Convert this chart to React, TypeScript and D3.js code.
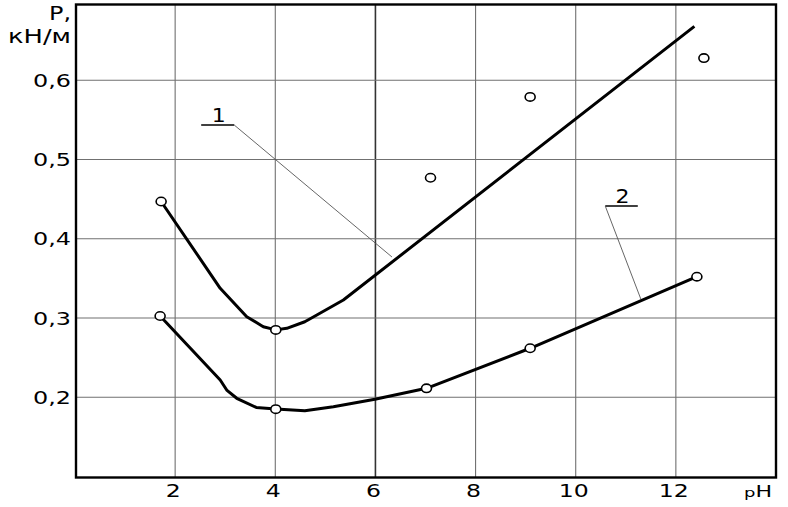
import React from "react";
import * as d3 from "d3";

// ---- data ----
const xTicks = [2, 4, 6, 8, 10, 12];
const yTicks = [0.2, 0.3, 0.4, 0.5, 0.6];

// curve 1 (fitted line)
const curve1X = [1.72, 2.9, 3.43, 3.76, 4.01, 4.23, 4.59, 4.83, 5.36, 12.37];
const curve1Y = [0.447, 0.3375, 0.3016, 0.289, 0.285, 0.287, 0.2953, 0.3038, 0.3227, 0.668];
// curve 1 markers on the line
const marks1X = [1.72, 4.01];
const marks1Y = [0.447, 0.285];
// curve 1 measured points off the line
const scatter1X = [7.1, 9.09, 12.56];
const scatter1Y = [0.477, 0.579, 0.628];

// curve 2
const curve2X = [1.7, 2.9, 3.03, 3.23, 3.62, 4.01, 4.59, 5.16, 5.99, 7.02, 9.09, 12.42];
const curve2Y = [0.3025, 0.2218, 0.2091, 0.1987, 0.1871, 0.1852, 0.183, 0.1881, 0.1974, 0.2113, 0.2618, 0.3521];
const marks2X = [1.7, 4.01, 7.02, 9.09, 12.42];
const marks2Y = [0.3025, 0.185, 0.2113, 0.2618, 0.3521];

// callout labels: [text, underline x0, underline x1, y, leader end x, leader end y, leader start at]
const calloutText = ["1", "2"];
const calloutX0 = [2.52, 10.59];
const calloutX1 = [3.18, 11.24];
const calloutY = [0.5435, 0.4413];
const calloutEndX = [6.33, 11.3];
const calloutEndY = [0.377, 0.324];
const calloutFromRight = [true, false];

const W = 788;
const H = 507;

export default function App() {
  const x = d3.scaleLinear().domain([0, 14]).range([75, 776]);
  const y = d3.scaleLinear().domain([0.1, 0.7]).range([476.5, 1]);
  const frameTop = 4.5;
  const frameBottom = 477.5;

  const line = d3
    .line<[number, number]>()
    .x((d) => x(d[0]))
    .y((d) => y(d[1]))
    .curve(d3.curveLinear);

  const pts1 = curve1X.map((v, i) => [v, curve1Y[i]] as [number, number]);
  const pts2 = curve2X.map((v, i) => [v, curve2Y[i]] as [number, number]);
  const fmt = (v: number) => d3.format(".1f")(v).replace(".", ",");
  const font = "'DejaVu Sans', Verdana, sans-serif";

  const marker = (cx: number, cy: number, key: string) => (
    <ellipse key={key} cx={x(cx)} cy={y(cy)} rx={5} ry={4.2} fill="#fff" stroke="#000" strokeWidth={1.6} />
  );

  return (
    <svg
      width={W}
      height={H}
      style={{ position: "absolute", left: 0, top: 0, display: "block", background: "#fff" }}
      fontFamily={font}
    >
      <rect x={0} y={0} width={W} height={H} fill="#fff" />
      {/* grid */}
      {xTicks.map((t) => (
        <line
          key={"gx" + t}
          x1={x(t)}
          x2={x(t)}
          y1={frameTop}
          y2={frameBottom}
          stroke={t === 6 ? "#333" : "#707070"}
          strokeWidth={t === 6 ? 1.6 : 1.1}
        />
      ))}
      {yTicks.map((t) => (
        <line key={"gy" + t} x1={x(0)} x2={x(14)} y1={y(t)} y2={y(t)} stroke="#707070" strokeWidth={1.1} />
      ))}
      {/* frame */}
      <rect
        x={x(0) + 1}
        y={frameTop}
        width={x(14) - x(0) - 1}
        height={frameBottom - frameTop}
        fill="none"
        stroke="#000"
        strokeWidth={2.4}
      />
      {/* y tick labels */}
      {yTicks.map((t) => (
        <text
          key={"ly" + t}
          x={33}
          y={y(t) + 6.5}
          fontSize={17}
          textLength={38}
          lengthAdjust="spacingAndGlyphs"
          fill="#000"
        >
          {fmt(t)}
        </text>
      ))}
      {/* x tick labels */}
      {xTicks.map((t) => {
        const s = String(t);
        return (
          <text
            key={"lx" + t}
            x={x(t) - 2}
            y={497}
            fontSize={18}
            textAnchor="middle"
            textLength={s.length > 1 ? 30 : 15}
            lengthAdjust="spacingAndGlyphs"
            fill="#000"
          >
            {s}
          </text>
        );
      })}
      {/* axis titles */}
      <text x={49} y={19.5} fontSize={19} textLength={22} lengthAdjust="spacingAndGlyphs" fill="#000">
        P,
      </text>
      <text x={8} y={43} fontSize={19} textLength={63} lengthAdjust="spacingAndGlyphs" fill="#000">
        кН/м
      </text>
      <text x={744} y={497} fontSize={16} textLength={28} lengthAdjust="spacingAndGlyphs" fill="#000">
        <tspan fontSize={13}>p</tspan>
        <tspan>H</tspan>
      </text>
      {/* callouts */}
      {calloutText.map((s, i) => {
        const x0 = x(calloutX0[i]);
        const x1 = x(calloutX1[i]);
        const yy = y(calloutY[i]);
        const sx = calloutFromRight[i] ? x1 : x0;
        return (
          <g key={"c" + i}>
            <line x1={x0} x2={x1} y1={yy} y2={yy} stroke="#000" strokeWidth={1.6} />
            <line
              x1={sx}
              y1={yy}
              x2={x(calloutEndX[i])}
              y2={y(calloutEndY[i])}
              stroke="#555"
              strokeWidth={0.9}
            />
            <text
              x={(x0 + x1) / 2 + 1}
              y={yy - 3}
              fontSize={19}
              textAnchor="middle"
              textLength={14}
              lengthAdjust="spacingAndGlyphs"
              fill="#000"
            >
              {s}
            </text>
          </g>
        );
      })}
      {/* curves */}
      <path d={line(pts1) ?? ""} fill="none" stroke="#000" strokeWidth={3} strokeLinejoin="round" />
      <path d={line(pts2) ?? ""} fill="none" stroke="#000" strokeWidth={3} strokeLinejoin="round" />
      {/* markers */}
      {marks1X.map((v, i) => marker(v, marks1Y[i], "m1" + i))}
      {marks2X.map((v, i) => marker(v, marks2Y[i], "m2" + i))}
      {scatter1X.map((v, i) => marker(v, scatter1Y[i], "s1" + i))}
    </svg>
  );
}
